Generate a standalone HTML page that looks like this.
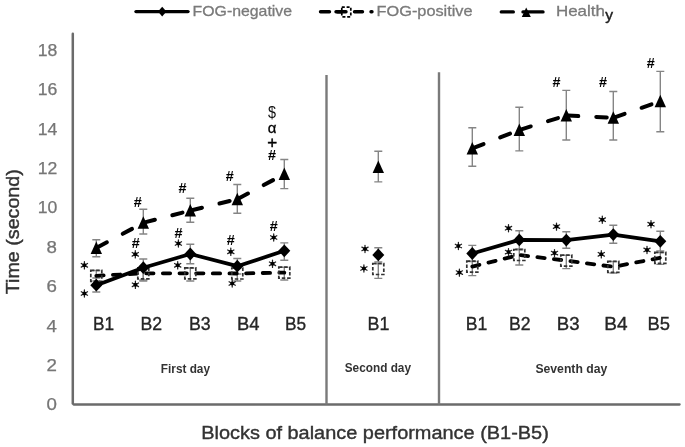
<!DOCTYPE html>
<html><head><meta charset="utf-8"><style>
html,body{margin:0;padding:0;background:#fff;width:685px;height:447px;overflow:hidden}
svg{display:block;font-family:"Liberation Sans",sans-serif;filter:blur(0.6px)}
</style></head><body>
<svg width="685" height="447" viewBox="0 0 685 447">
<rect width="685" height="447" fill="#fff"/>
<line x1="72.8" y1="33.8" x2="72.8" y2="403.6" stroke="#6b6b6b" stroke-width="2.5" stroke-linecap="round"/>
<line x1="73.6" y1="404.5" x2="679.6" y2="404.5" stroke="#6b6b6b" stroke-width="2.3" stroke-linecap="round"/>
<line x1="326.5" y1="75.1" x2="326.5" y2="404.5" stroke="#7a7a7a" stroke-width="2.4"/>
<line x1="439" y1="72.3" x2="439" y2="404.5" stroke="#7a7a7a" stroke-width="2.4"/>
<text x="46.6" y="410.3" font-size="16" fill="#767676" stroke="#767676" stroke-width="0.25" textLength="10.4" lengthAdjust="spacingAndGlyphs">0</text>
<text x="46.6" y="370.9" font-size="16" fill="#767676" stroke="#767676" stroke-width="0.25" textLength="10.4" lengthAdjust="spacingAndGlyphs">2</text>
<text x="46.6" y="331.5" font-size="16" fill="#767676" stroke="#767676" stroke-width="0.25" textLength="10.4" lengthAdjust="spacingAndGlyphs">4</text>
<text x="46.6" y="292.1" font-size="16" fill="#767676" stroke="#767676" stroke-width="0.25" textLength="10.4" lengthAdjust="spacingAndGlyphs">6</text>
<text x="46.6" y="252.7" font-size="16" fill="#767676" stroke="#767676" stroke-width="0.25" textLength="10.4" lengthAdjust="spacingAndGlyphs">8</text>
<text x="37.8" y="213.3" font-size="16" fill="#767676" stroke="#767676" stroke-width="0.25" textLength="19.6" lengthAdjust="spacingAndGlyphs">10</text>
<text x="37.8" y="173.9" font-size="16" fill="#767676" stroke="#767676" stroke-width="0.25" textLength="19.6" lengthAdjust="spacingAndGlyphs">12</text>
<text x="37.8" y="134.5" font-size="16" fill="#767676" stroke="#767676" stroke-width="0.25" textLength="19.6" lengthAdjust="spacingAndGlyphs">14</text>
<text x="37.8" y="95.1" font-size="16" fill="#767676" stroke="#767676" stroke-width="0.25" textLength="19.6" lengthAdjust="spacingAndGlyphs">16</text>
<text x="37.8" y="55.7" font-size="16" fill="#767676" stroke="#767676" stroke-width="0.25" textLength="19.6" lengthAdjust="spacingAndGlyphs">18</text>
<path d="M96.3 239.7V256.7M92.3 239.7H100.3M92.3 256.7H100.3" stroke="#858585" stroke-width="1.4" fill="none"/>
<path d="M143.3 209.2V234.0M139.3 209.2H147.3M139.3 234.0H147.3" stroke="#858585" stroke-width="1.4" fill="none"/>
<path d="M190.3 198.2V222.3M186.3 198.2H194.3M186.3 222.3H194.3" stroke="#858585" stroke-width="1.4" fill="none"/>
<path d="M237.3 184.5V213.3M233.3 184.5H241.3M233.3 213.3H241.3" stroke="#858585" stroke-width="1.4" fill="none"/>
<path d="M284.3 159.5V188.6M280.3 159.5H288.3M280.3 188.6H288.3" stroke="#858585" stroke-width="1.4" fill="none"/>
<path d="M378.3 151.2V181.9M374.3 151.2H382.3M374.3 181.9H382.3" stroke="#858585" stroke-width="1.4" fill="none"/>
<path d="M472.3 127.8V166.3M468.3 127.8H476.3M468.3 166.3H476.3" stroke="#858585" stroke-width="1.4" fill="none"/>
<path d="M519.3 107.3V150.9M515.3 107.3H523.3M515.3 150.9H523.3" stroke="#858585" stroke-width="1.4" fill="none"/>
<path d="M566.3 90.4V140.0M562.3 90.4H570.3M562.3 140.0H570.3" stroke="#858585" stroke-width="1.4" fill="none"/>
<path d="M613.3 91.5V140.0M609.3 91.5H617.3M609.3 140.0H617.3" stroke="#858585" stroke-width="1.4" fill="none"/>
<path d="M660.3 71.4V131.7M656.3 71.4H664.3M656.3 131.7H664.3" stroke="#858585" stroke-width="1.4" fill="none"/>
<path d="M96.3 278.0V292.0M92.3 278.0H100.3M92.3 292.0H100.3" stroke="#858585" stroke-width="1.4" fill="none"/>
<path d="M143.3 259.0V280.0M139.3 259.0H147.3M139.3 280.0H147.3" stroke="#858585" stroke-width="1.4" fill="none"/>
<path d="M190.3 244.2V263.8M186.3 244.2H194.3M186.3 263.8H194.3" stroke="#858585" stroke-width="1.4" fill="none"/>
<path d="M237.3 258.5V274.0M233.3 258.5H241.3M233.3 274.0H241.3" stroke="#858585" stroke-width="1.4" fill="none"/>
<path d="M284.3 242.9V260.3M280.3 242.9H288.3M280.3 260.3H288.3" stroke="#858585" stroke-width="1.4" fill="none"/>
<path d="M378.3 247.7V262.0M374.3 247.7H382.3M374.3 262.0H382.3" stroke="#858585" stroke-width="1.4" fill="none"/>
<path d="M472.3 245.4V261.6M468.3 245.4H476.3M468.3 261.6H476.3" stroke="#858585" stroke-width="1.4" fill="none"/>
<path d="M519.3 230.7V249.0M515.3 230.7H523.3M515.3 249.0H523.3" stroke="#858585" stroke-width="1.4" fill="none"/>
<path d="M566.3 231.8V248.3M562.3 231.8H570.3M562.3 248.3H570.3" stroke="#858585" stroke-width="1.4" fill="none"/>
<path d="M613.3 225.2V243.3M609.3 225.2H617.3M609.3 243.3H617.3" stroke="#858585" stroke-width="1.4" fill="none"/>
<path d="M660.3 231.2V251.0M656.3 231.2H664.3M656.3 251.0H664.3" stroke="#858585" stroke-width="1.4" fill="none"/>
<path d="M96.3 270.5V281.0M92.3 270.5H100.3M92.3 281.0H100.3" stroke="#858585" stroke-width="1.4" fill="none"/>
<path d="M143.3 268.0V281.0M139.3 268.0H147.3M139.3 281.0H147.3" stroke="#858585" stroke-width="1.4" fill="none"/>
<path d="M190.3 268.0V281.0M186.3 268.0H194.3M186.3 281.0H194.3" stroke="#858585" stroke-width="1.4" fill="none"/>
<path d="M237.3 268.2V281.0M233.3 268.2H241.3M233.3 281.0H241.3" stroke="#858585" stroke-width="1.4" fill="none"/>
<path d="M284.3 267.3V280.0M280.3 267.3H288.3M280.3 280.0H288.3" stroke="#858585" stroke-width="1.4" fill="none"/>
<path d="M378.3 263.7V278.4M374.3 263.7H382.3M374.3 278.4H382.3" stroke="#858585" stroke-width="1.4" fill="none"/>
<path d="M472.3 261.3V275.6M468.3 261.3H476.3M468.3 275.6H476.3" stroke="#858585" stroke-width="1.4" fill="none"/>
<path d="M519.3 249.7V265.0M515.3 249.7H523.3M515.3 265.0H523.3" stroke="#858585" stroke-width="1.4" fill="none"/>
<path d="M566.3 255.3V268.6M562.3 255.3H570.3M562.3 268.6H570.3" stroke="#858585" stroke-width="1.4" fill="none"/>
<path d="M613.3 261.5V273.0M609.3 261.5H617.3M609.3 273.0H617.3" stroke="#858585" stroke-width="1.4" fill="none"/>
<path d="M660.3 252.5V264.4M656.3 252.5H664.3M656.3 264.4H664.3" stroke="#858585" stroke-width="1.4" fill="none"/>
<line x1="96.3" y1="248.0" x2="143.3" y2="222.8" stroke="#000" stroke-width="4" stroke-linecap="round" stroke-dasharray="10.5 18" stroke-dashoffset="-1.5"/>
<line x1="143.3" y1="222.8" x2="190.3" y2="210.6" stroke="#000" stroke-width="4" stroke-linecap="round" stroke-dasharray="10.5 18" stroke-dashoffset="-1.5"/>
<line x1="190.3" y1="210.6" x2="237.3" y2="199.2" stroke="#000" stroke-width="4" stroke-linecap="round" stroke-dasharray="10.5 18" stroke-dashoffset="-1.5"/>
<line x1="237.3" y1="199.2" x2="284.3" y2="174.1" stroke="#000" stroke-width="4" stroke-linecap="round" stroke-dasharray="10.5 18" stroke-dashoffset="-1.5"/>
<line x1="472.3" y1="148.4" x2="519.3" y2="130.0" stroke="#000" stroke-width="4" stroke-linecap="round" stroke-dasharray="10.5 18" stroke-dashoffset="-1.5"/>
<line x1="519.3" y1="130.0" x2="566.3" y2="115.5" stroke="#000" stroke-width="4" stroke-linecap="round" stroke-dasharray="10.5 18" stroke-dashoffset="-1.5"/>
<line x1="566.3" y1="115.5" x2="613.3" y2="117.8" stroke="#000" stroke-width="4" stroke-linecap="round" stroke-dasharray="10.5 18" stroke-dashoffset="-1.5"/>
<line x1="613.3" y1="117.8" x2="660.3" y2="101.2" stroke="#000" stroke-width="4" stroke-linecap="round" stroke-dasharray="10.5 18" stroke-dashoffset="-1.5"/>
<path d="M96.3 241.5L102.0 254.0L90.6 254.0Z" fill="#000"/>
<path d="M143.3 216.3L149.0 228.8L137.6 228.8Z" fill="#000"/>
<path d="M190.3 204.1L196.0 216.6L184.6 216.6Z" fill="#000"/>
<path d="M237.3 192.7L243.0 205.2L231.6 205.2Z" fill="#000"/>
<path d="M284.3 167.6L290.0 180.1L278.6 180.1Z" fill="#000"/>
<path d="M378.3 160.5L384.0 173.0L372.6 173.0Z" fill="#000"/>
<path d="M472.3 141.9L478.0 154.4L466.6 154.4Z" fill="#000"/>
<path d="M519.3 123.5L525.0 136.0L513.6 136.0Z" fill="#000"/>
<path d="M566.3 109.0L572.0 121.5L560.6 121.5Z" fill="#000"/>
<path d="M613.3 111.3L619.0 123.8L607.6 123.8Z" fill="#000"/>
<path d="M660.3 94.7L666.0 107.2L654.6 107.2Z" fill="#000"/>
<polyline points="96.3,275.8 143.3,273.3 190.3,273.3 237.3,273.5 284.3,272.6" stroke="#000" stroke-width="3.8" stroke-linecap="round" stroke-dasharray="7.35 9.3" fill="none"/>
<polyline points="472.3,266.6 519.3,255.0 566.3,260.6 613.3,266.8 660.3,257.8" stroke="#000" stroke-width="3.8" stroke-linecap="round" stroke-dasharray="7.35 9.3" fill="none"/>
<rect x="90.8" y="270.3" width="11" height="11" fill="none" stroke="#333" stroke-width="1.7" stroke-dasharray="3.5 1.8"/>
<rect x="137.8" y="267.8" width="11" height="11" fill="none" stroke="#333" stroke-width="1.7" stroke-dasharray="3.5 1.8"/>
<rect x="184.8" y="267.8" width="11" height="11" fill="none" stroke="#333" stroke-width="1.7" stroke-dasharray="3.5 1.8"/>
<rect x="231.8" y="268.0" width="11" height="11" fill="none" stroke="#333" stroke-width="1.7" stroke-dasharray="3.5 1.8"/>
<rect x="278.8" y="267.1" width="11" height="11" fill="none" stroke="#333" stroke-width="1.7" stroke-dasharray="3.5 1.8"/>
<rect x="372.8" y="263.5" width="11" height="11" fill="none" stroke="#333" stroke-width="1.7" stroke-dasharray="3.5 1.8"/>
<rect x="466.8" y="261.1" width="11" height="11" fill="none" stroke="#333" stroke-width="1.7" stroke-dasharray="3.5 1.8"/>
<rect x="513.8" y="249.5" width="11" height="11" fill="none" stroke="#333" stroke-width="1.7" stroke-dasharray="3.5 1.8"/>
<rect x="560.8" y="255.1" width="11" height="11" fill="none" stroke="#333" stroke-width="1.7" stroke-dasharray="3.5 1.8"/>
<rect x="607.8" y="261.3" width="11" height="11" fill="none" stroke="#333" stroke-width="1.7" stroke-dasharray="3.5 1.8"/>
<rect x="654.8" y="252.3" width="11" height="11" fill="none" stroke="#333" stroke-width="1.7" stroke-dasharray="3.5 1.8"/>
<polyline points="96.3,285.2 143.3,267.7 190.3,254.0 237.3,266.2 284.3,250.8" stroke="#000" stroke-width="3.8" stroke-linecap="round" stroke-linejoin="round" fill="none"/>
<polyline points="472.3,253.5 519.3,239.9 566.3,240.1 613.3,234.6 660.3,241.3" stroke="#000" stroke-width="3.8" stroke-linecap="round" stroke-linejoin="round" fill="none"/>
<path d="M96.3 278.8L102.3 285.2L96.3 291.6L90.3 285.2Z" fill="#000"/>
<path d="M143.3 261.3L149.3 267.7L143.3 274.1L137.3 267.7Z" fill="#000"/>
<path d="M190.3 247.6L196.3 254.0L190.3 260.4L184.3 254.0Z" fill="#000"/>
<path d="M237.3 259.8L243.3 266.2L237.3 272.6L231.3 266.2Z" fill="#000"/>
<path d="M284.3 244.4L290.3 250.8L284.3 257.2L278.3 250.8Z" fill="#000"/>
<path d="M378.3 248.5L384.3 254.9L378.3 261.3L372.3 254.9Z" fill="#000"/>
<path d="M472.3 247.1L478.3 253.5L472.3 259.9L466.3 253.5Z" fill="#000"/>
<path d="M519.3 233.5L525.3 239.9L519.3 246.3L513.3 239.9Z" fill="#000"/>
<path d="M566.3 233.7L572.3 240.1L566.3 246.5L560.3 240.1Z" fill="#000"/>
<path d="M613.3 228.2L619.3 234.6L613.3 241.0L607.3 234.6Z" fill="#000"/>
<path d="M660.3 234.9L666.3 241.3L660.3 247.7L654.3 241.3Z" fill="#000"/>
<path d="M84.40 261.70L84.40 268.90M87.52 263.50L81.28 267.10M87.52 267.10L81.28 263.50" stroke="#222" stroke-width="1.25" stroke-linecap="round"/><circle cx="84.40" cy="265.30" r="2" fill="#000"/>
<path d="M84.40 289.90L84.40 297.10M87.52 291.70L81.28 295.30M87.52 295.30L81.28 291.70" stroke="#222" stroke-width="1.25" stroke-linecap="round"/><circle cx="84.40" cy="293.50" r="2" fill="#000"/>
<path d="M135.30 250.70L135.30 257.90M138.42 252.50L132.18 256.10M138.42 256.10L132.18 252.50" stroke="#222" stroke-width="1.25" stroke-linecap="round"/><circle cx="135.30" cy="254.30" r="2" fill="#000"/>
<path d="M135.40 281.20L135.40 288.40M138.52 283.00L132.28 286.60M138.52 286.60L132.28 283.00" stroke="#222" stroke-width="1.25" stroke-linecap="round"/><circle cx="135.40" cy="284.80" r="2" fill="#000"/>
<path d="M178.40 239.90L178.40 247.10M181.52 241.70L175.28 245.30M181.52 245.30L175.28 241.70" stroke="#222" stroke-width="1.25" stroke-linecap="round"/><circle cx="178.40" cy="243.50" r="2" fill="#000"/>
<path d="M177.70 261.70L177.70 268.90M180.82 263.50L174.58 267.10M180.82 267.10L174.58 263.50" stroke="#222" stroke-width="1.25" stroke-linecap="round"/><circle cx="177.70" cy="265.30" r="2" fill="#000"/>
<path d="M230.80 248.20L230.80 255.40M233.92 250.00L227.68 253.60M233.92 253.60L227.68 250.00" stroke="#222" stroke-width="1.25" stroke-linecap="round"/><circle cx="230.80" cy="251.80" r="2" fill="#000"/>
<path d="M232.20 279.90L232.20 287.10M235.32 281.70L229.08 285.30M235.32 285.30L229.08 281.70" stroke="#222" stroke-width="1.25" stroke-linecap="round"/><circle cx="232.20" cy="283.50" r="2" fill="#000"/>
<path d="M273.70 233.90L273.70 241.10M276.82 235.70L270.58 239.30M276.82 239.30L270.58 235.70" stroke="#222" stroke-width="1.25" stroke-linecap="round"/><circle cx="273.70" cy="237.50" r="2" fill="#000"/>
<path d="M272.50 260.20L272.50 267.40M275.62 262.00L269.38 265.60M275.62 265.60L269.38 262.00" stroke="#222" stroke-width="1.25" stroke-linecap="round"/><circle cx="272.50" cy="263.80" r="2" fill="#000"/>
<path d="M365.00 245.30L365.00 252.50M368.12 247.10L361.88 250.70M368.12 250.70L361.88 247.10" stroke="#222" stroke-width="1.25" stroke-linecap="round"/><circle cx="365.00" cy="248.90" r="2" fill="#000"/>
<path d="M363.90 264.90L363.90 272.10M367.02 266.70L360.78 270.30M367.02 270.30L360.78 266.70" stroke="#222" stroke-width="1.25" stroke-linecap="round"/><circle cx="363.90" cy="268.50" r="2" fill="#000"/>
<path d="M458.40 242.40L458.40 249.60M461.52 244.20L455.28 247.80M461.52 247.80L455.28 244.20" stroke="#222" stroke-width="1.25" stroke-linecap="round"/><circle cx="458.40" cy="246.00" r="2" fill="#000"/>
<path d="M459.40 269.00L459.40 276.20M462.52 270.80L456.28 274.40M462.52 274.40L456.28 270.80" stroke="#222" stroke-width="1.25" stroke-linecap="round"/><circle cx="459.40" cy="272.60" r="2" fill="#000"/>
<path d="M508.50 224.60L508.50 231.80M511.62 226.40L505.38 230.00M511.62 230.00L505.38 226.40" stroke="#222" stroke-width="1.25" stroke-linecap="round"/><circle cx="508.50" cy="228.20" r="2" fill="#000"/>
<path d="M508.50 248.50L508.50 255.70M511.62 250.30L505.38 253.90M511.62 253.90L505.38 250.30" stroke="#222" stroke-width="1.25" stroke-linecap="round"/><circle cx="508.50" cy="252.10" r="2" fill="#000"/>
<path d="M556.50 223.00L556.50 230.20M559.62 224.80L553.38 228.40M559.62 228.40L553.38 224.80" stroke="#222" stroke-width="1.25" stroke-linecap="round"/><circle cx="556.50" cy="226.60" r="2" fill="#000"/>
<path d="M554.50 249.50L554.50 256.70M557.62 251.30L551.38 254.90M557.62 254.90L551.38 251.30" stroke="#222" stroke-width="1.25" stroke-linecap="round"/><circle cx="554.50" cy="253.10" r="2" fill="#000"/>
<path d="M602.30 216.10L602.30 223.30M605.42 217.90L599.18 221.50M605.42 221.50L599.18 217.90" stroke="#222" stroke-width="1.25" stroke-linecap="round"/><circle cx="602.30" cy="219.70" r="2" fill="#000"/>
<path d="M601.30 250.70L601.30 257.90M604.42 252.50L598.18 256.10M604.42 256.10L598.18 252.50" stroke="#222" stroke-width="1.25" stroke-linecap="round"/><circle cx="601.30" cy="254.30" r="2" fill="#000"/>
<path d="M651.00 220.60L651.00 227.80M654.12 222.40L647.88 226.00M654.12 226.00L647.88 222.40" stroke="#222" stroke-width="1.25" stroke-linecap="round"/><circle cx="651.00" cy="224.20" r="2" fill="#000"/>
<path d="M647.00 246.30L647.00 253.50M650.12 248.10L643.88 251.70M650.12 251.70L643.88 248.10" stroke="#222" stroke-width="1.25" stroke-linecap="round"/><circle cx="647.00" cy="249.90" r="2" fill="#000"/>
<text x="133.7" y="206.6" font-size="15.5" font-weight="bold" fill="#000" textLength="8" lengthAdjust="spacingAndGlyphs">#</text>
<text x="131.7" y="248.4" font-size="15.5" font-weight="bold" fill="#000" textLength="8" lengthAdjust="spacingAndGlyphs">#</text>
<text x="178.4" y="192.5" font-size="15.5" font-weight="bold" fill="#000" textLength="8" lengthAdjust="spacingAndGlyphs">#</text>
<text x="174.4" y="237.8" font-size="15.5" font-weight="bold" fill="#000" textLength="8" lengthAdjust="spacingAndGlyphs">#</text>
<text x="225.7" y="181.4" font-size="15.5" font-weight="bold" fill="#000" textLength="8" lengthAdjust="spacingAndGlyphs">#</text>
<text x="226.8" y="244.7" font-size="15.5" font-weight="bold" fill="#000" textLength="8" lengthAdjust="spacingAndGlyphs">#</text>
<text x="268.0" y="159.9" font-size="15.5" font-weight="bold" fill="#000" textLength="8" lengthAdjust="spacingAndGlyphs">#</text>
<text x="269.7" y="230.8" font-size="15.5" font-weight="bold" fill="#000" textLength="8" lengthAdjust="spacingAndGlyphs">#</text>
<text x="552.4" y="86.9" font-size="15.5" font-weight="bold" fill="#000" textLength="8" lengthAdjust="spacingAndGlyphs">#</text>
<text x="598.9" y="87.0" font-size="15.5" font-weight="bold" fill="#000" textLength="8" lengthAdjust="spacingAndGlyphs">#</text>
<text x="646.7" y="68.2" font-size="15.5" font-weight="bold" fill="#000" textLength="8" lengthAdjust="spacingAndGlyphs">#</text>
<text x="272.1" y="117.6" font-size="16" text-anchor="middle" fill="#111" textLength="8" lengthAdjust="spacingAndGlyphs">$</text>
<text x="272.2" y="133" font-size="15" text-anchor="middle" fill="#000" stroke="#000" stroke-width="0.3">α</text>
<text x="272.2" y="148.3" font-size="17" text-anchor="middle" fill="#000" stroke="#000" stroke-width="0.45">+</text>
<text x="93.0" y="330.1" font-size="18.4" fill="#262626" stroke="#262626" stroke-width="0.35" textLength="21.1" lengthAdjust="spacingAndGlyphs">B1</text>
<text x="140.6" y="330.1" font-size="18.4" fill="#262626" stroke="#262626" stroke-width="0.35" textLength="21.6" lengthAdjust="spacingAndGlyphs">B2</text>
<text x="188.9" y="330.1" font-size="18.4" fill="#262626" stroke="#262626" stroke-width="0.35" textLength="21.7" lengthAdjust="spacingAndGlyphs">B3</text>
<text x="237.1" y="330.1" font-size="18.4" fill="#262626" stroke="#262626" stroke-width="0.35" textLength="22.5" lengthAdjust="spacingAndGlyphs">B4</text>
<text x="285.1" y="330.1" font-size="18.4" fill="#262626" stroke="#262626" stroke-width="0.35" textLength="21.1" lengthAdjust="spacingAndGlyphs">B5</text>
<text x="367.5" y="330.1" font-size="18.4" fill="#262626" stroke="#262626" stroke-width="0.35" textLength="21.9" lengthAdjust="spacingAndGlyphs">B1</text>
<text x="465.7" y="330.1" font-size="18.4" fill="#262626" stroke="#262626" stroke-width="0.35" textLength="21.6" lengthAdjust="spacingAndGlyphs">B1</text>
<text x="509.0" y="330.1" font-size="18.4" fill="#262626" stroke="#262626" stroke-width="0.35" textLength="21.6" lengthAdjust="spacingAndGlyphs">B2</text>
<text x="556.8" y="330.1" font-size="18.4" fill="#262626" stroke="#262626" stroke-width="0.35" textLength="22.8" lengthAdjust="spacingAndGlyphs">B3</text>
<text x="604.3" y="330.1" font-size="18.4" fill="#262626" stroke="#262626" stroke-width="0.35" textLength="23.3" lengthAdjust="spacingAndGlyphs">B4</text>
<text x="647.6" y="330.1" font-size="18.4" fill="#262626" stroke="#262626" stroke-width="0.35" textLength="22.5" lengthAdjust="spacingAndGlyphs">B5</text>
<text x="160.8" y="373.2" font-size="12.4" font-weight="bold" fill="#333" textLength="49.2" lengthAdjust="spacingAndGlyphs">First day</text>
<text x="344.7" y="372.4" font-size="12.4" font-weight="bold" fill="#333" textLength="66.3" lengthAdjust="spacingAndGlyphs">Second day</text>
<text x="535.4" y="373.2" font-size="12.4" font-weight="bold" fill="#333" textLength="71.9" lengthAdjust="spacingAndGlyphs">Seventh day</text>
<text x="201.2" y="438.5" font-size="19.2" fill="#333" stroke="#333" stroke-width="0.4" textLength="347.6" lengthAdjust="spacingAndGlyphs">Blocks of balance performance (B1-B5)</text>
<text transform="translate(19.3,294.2) rotate(-90)" x="0" y="0" font-size="18.3" fill="#333" stroke="#333" stroke-width="0.4" textLength="125" lengthAdjust="spacingAndGlyphs">Time (second)</text>
<line x1="136" y1="11.6" x2="188" y2="11.6" stroke="#000" stroke-width="3.4" stroke-linecap="round"/>
<path d="M162.2 6.8L166.4 11.6L162.2 16.4L158 11.6Z" fill="#000"/>
<text x="192.6" y="15.9" font-size="15" fill="#7a7a7a" stroke="#7a7a7a" stroke-width="0.3" textLength="99.5" lengthAdjust="spacingAndGlyphs">FOG-negative</text>
<path d="M320.5 11.75H329.5M337.5 11.75H346.5M354.5 11.75H362.5M371 11.75H372" stroke="#000" stroke-width="3.4" stroke-linecap="round"/>
<rect x="341.8" y="7.2" width="9" height="9.6" fill="#fff" stroke="#000" stroke-width="1.7" stroke-dasharray="3 1.8"/>
<path d="M336 11.75H346" stroke="#000" stroke-width="3.4" stroke-linecap="round"/>
<text x="376.6" y="15.9" font-size="15" fill="#7a7a7a" stroke="#7a7a7a" stroke-width="0.3" textLength="96" lengthAdjust="spacingAndGlyphs">FOG-positive</text>
<path d="M501.3 11.9H513.3M523 11.9H543" stroke="#000" stroke-width="3.4" stroke-linecap="round"/>
<path d="M526.2 7.6L530.8 17L521.8 17Z" fill="#000"/>
<text x="555.9" y="16" font-size="15" fill="#7a7a7a" stroke="#7a7a7a" stroke-width="0.3" textLength="49" lengthAdjust="spacingAndGlyphs">Health</text>
<text x="605.2" y="19.5" font-size="15" fill="#222" stroke="#222" stroke-width="0.4" textLength="7.8" lengthAdjust="spacingAndGlyphs">y</text>
</svg>
</body></html>
